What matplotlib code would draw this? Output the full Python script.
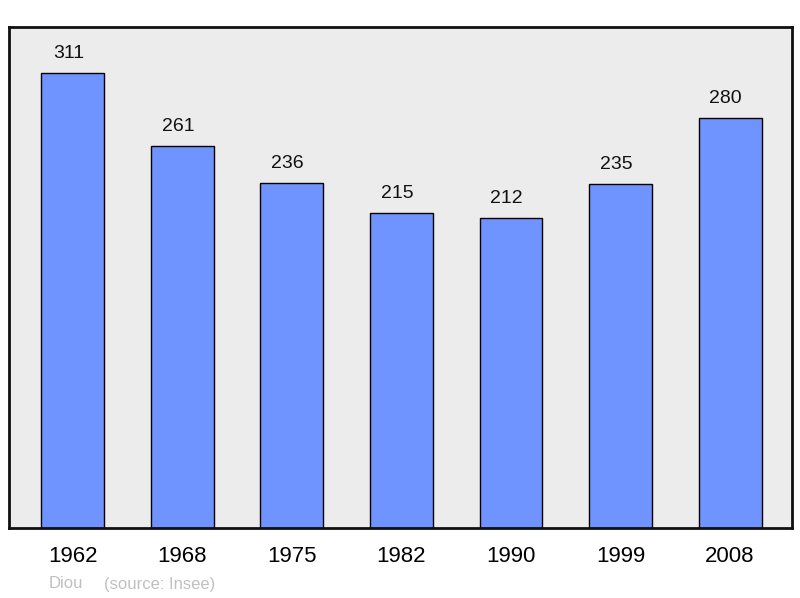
import matplotlib.pyplot as plt
import numpy as np

plt.rcParams['font.family'] = ['Liberation Sans', 'DejaVu Sans']

# data
years = ['1962', '1968', '1975', '1982', '1990', '1999', '2008']
population = [311, 261, 236, 215, 212, 235, 280]

fig = plt.figure(figsize=(8, 5.98), dpi=100)
ax = fig.add_axes([0.01125, 0.1171, 0.97875, 0.8377])
ax.set_facecolor('#ececec')

x = np.arange(len(years))
bars = ax.bar(x, population, width=0.575, color='#7094ff', edgecolor='black', linewidth=1, zorder=2)

for xi, v in zip(x, population):
    ax.annotate(str(v), (xi, v), xytext=(-3.3, 8), textcoords='offset points',
                ha='center', va='bottom', fontsize=14, color='#111111')

ax.set_xlim(-0.584, 6.566)
ax.set_ylim(0, 342.4)
ax.set_xticks(x)
ax.set_xticklabels(years, fontsize=16)
ax.tick_params(axis='x', length=0, pad=13)
ax.set_yticks([])
for s in ax.spines.values():
    s.set_linewidth(2)
    s.set_color('#111111')

fig.text(49 / 800, 1 - 584 / 598, 'Diou', color='#c0c0c0', fontsize=12, va='center')
fig.text(104 / 800, 1 - 584 / 598, '(source: Insee)', color='#c0c0c0', fontsize=12, va='center')

fig.savefig('out.png', dpi=100)
